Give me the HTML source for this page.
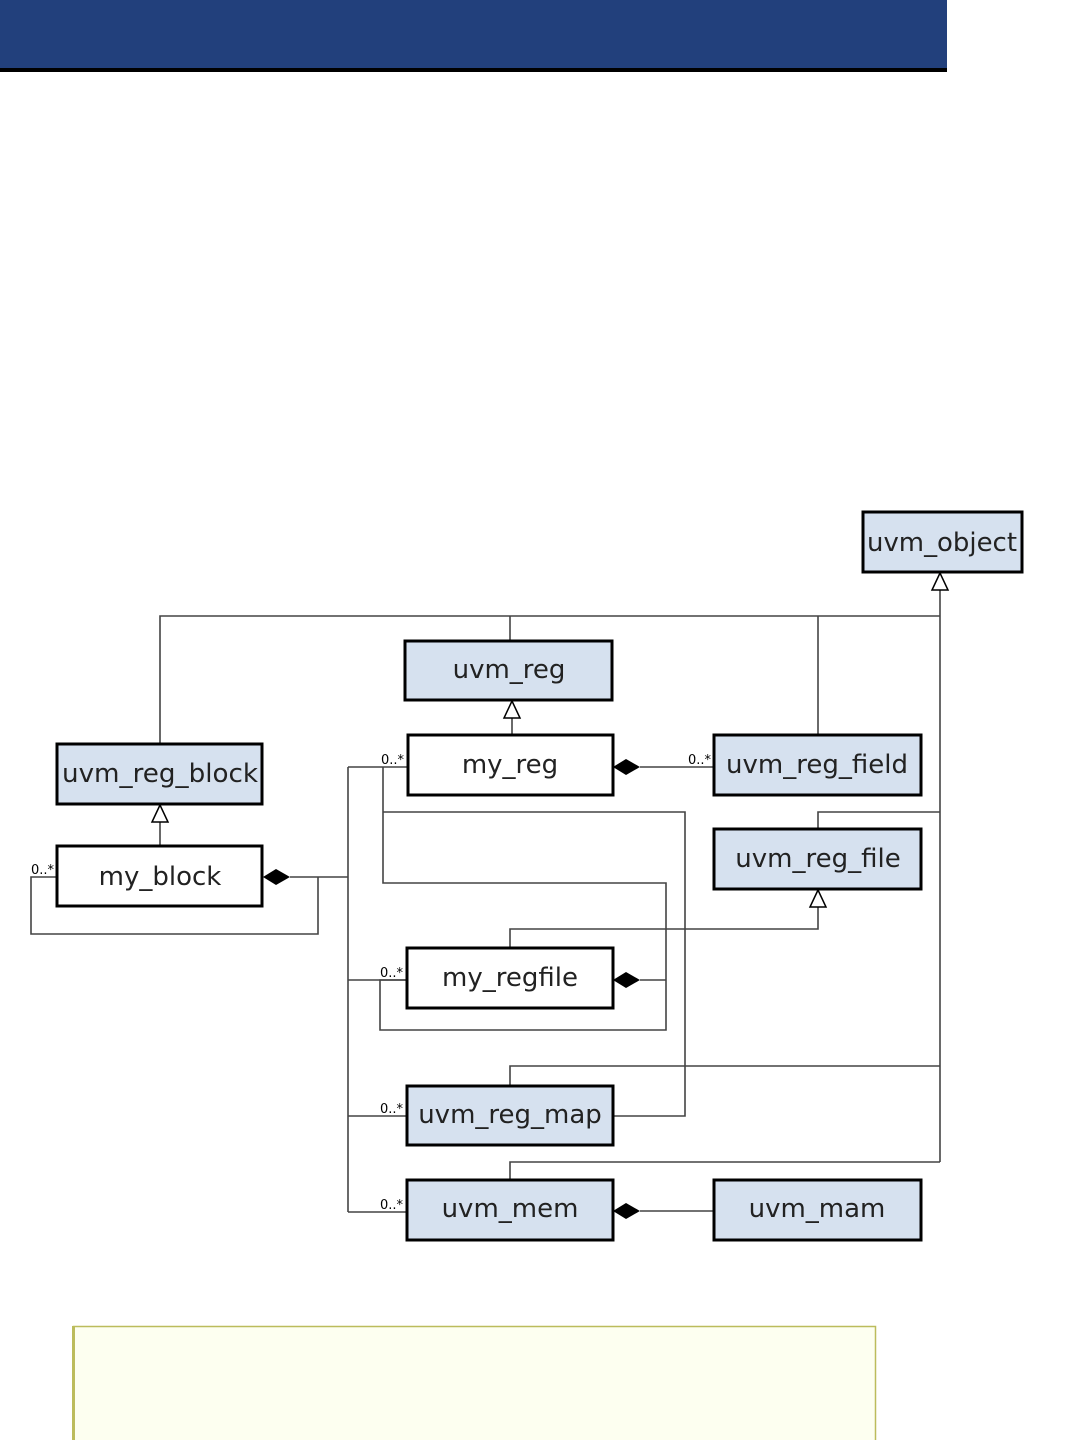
<!DOCTYPE html>
<html><head><meta charset="utf-8"><style>
body{margin:0;width:1080px;height:1440px;overflow:hidden;background:#fff;}
svg{display:block}
text{font-family:"DejaVu Sans","Liberation Sans",sans-serif;}
</style></head><body>
<svg width="1080" height="1440" viewBox="0 0 1080 1440">
<rect x="0" y="0" width="947" height="68" fill="#22407c"/>
<rect x="0" y="68" width="947" height="4" fill="#000"/>
<g fill="none" stroke="#444" stroke-width="1.6">
<polyline points="160,744 160,616 940,616"/>
<line x1="510" y1="616" x2="510" y2="641"/>
<line x1="818" y1="616" x2="818" y2="735"/>
<line x1="940" y1="590" x2="940" y2="1162"/>
<line x1="512" y1="718" x2="512" y2="735"/>
<line x1="160" y1="822" x2="160" y2="846"/>
<line x1="290" y1="877" x2="348" y2="877"/>
<polyline points="318,877 318,934 31,934 31,877 57,877"/>
<line x1="348" y1="767" x2="348" y2="1212"/>
<line x1="348" y1="767" x2="408" y2="767"/>
<line x1="348" y1="980" x2="407" y2="980"/>
<line x1="348" y1="1116" x2="407" y2="1116"/>
<line x1="348" y1="1212" x2="407" y2="1212"/>
<line x1="640" y1="767" x2="714" y2="767"/>
<polyline points="383,767 383,883 666,883 666,980"/>
<polyline points="383,812 685,812 685,1116 613,1116"/>
<line x1="640" y1="980" x2="666" y2="980"/>
<polyline points="407,980 380,980 380,1030 666,1030 666,980"/>
<polyline points="510,948 510,929 818,929 818,907"/>
<polyline points="818,829 818,812 940,812"/>
<polyline points="510,1086 510,1066 940,1066"/>
<polyline points="510,1180 510,1162 940,1162"/>
<line x1="640" y1="1211" x2="714" y2="1211"/>
</g>
<g fill="#fff" stroke="#000" stroke-width="1.5">
<polygon points="940,573 932,590 948,590"/>
<polygon points="512,701 504,718 520,718"/>
<polygon points="160,805 152,822 168,822"/>
<polygon points="818,890 810,907 826,907"/>
</g>
<g fill="#000">
<polygon points="263,877 276,869 290,877 276,885"/>
<polygon points="613,767 626,759 640,767 626,775"/>
<polygon points="613,980 626,972 640,980 626,988"/>
<polygon points="613,1211 626,1203 640,1211 626,1219"/>
</g>
<g stroke="#000" stroke-width="3">
<rect x="863" y="512" width="159" height="60" fill="#d6e1ef"/>
<rect x="405" y="641" width="207" height="59" fill="#d6e1ef"/>
<rect x="57" y="744" width="205" height="60" fill="#d6e1ef"/>
<rect x="408" y="735" width="205" height="60" fill="#fff"/>
<rect x="714" y="735" width="207" height="60" fill="#d6e1ef"/>
<rect x="57" y="846" width="205" height="60" fill="#fff"/>
<rect x="714" y="829" width="207" height="60" fill="#d6e1ef"/>
<rect x="407" y="948" width="206" height="60" fill="#fff"/>
<rect x="407" y="1086" width="206" height="59" fill="#d6e1ef"/>
<rect x="407" y="1180" width="206" height="60" fill="#d6e1ef"/>
<rect x="714" y="1180" width="207" height="60" fill="#d6e1ef"/>
</g>
<g font-size="26" fill="#222" text-anchor="middle">
<text x="942" y="551" textLength="150" lengthAdjust="spacingAndGlyphs">uvm_object</text>
<text x="509" y="678">uvm_reg</text>
<text x="160" y="782" textLength="196" lengthAdjust="spacingAndGlyphs">uvm_reg_block</text>
<text x="510" y="773">my_reg</text>
<text x="817" y="773">uvm_reg_field</text>
<text x="160" y="885">my_block</text>
<text x="818" y="867">uvm_reg_file</text>
<text x="510" y="986">my_regfile</text>
<text x="510" y="1123">uvm_reg_map</text>
<text x="510" y="1217">uvm_mem</text>
<text x="817" y="1217">uvm_mam</text>
</g>
<g font-size="13" fill="#000">
<text x="31" y="874">0..*</text>
<text x="381" y="764">0..*</text>
<text x="688" y="764">0..*</text>
<text x="380" y="977">0..*</text>
<text x="380" y="1113">0..*</text>
<text x="380" y="1209">0..*</text>
</g>
<rect x="73.5" y="1326.5" width="802" height="120" fill="#fdfff0" stroke="#bcbc5c" stroke-width="1.5"/>
<rect x="72" y="1326" width="3" height="114" fill="#bcbc5c"/>
</svg>
</body></html>
